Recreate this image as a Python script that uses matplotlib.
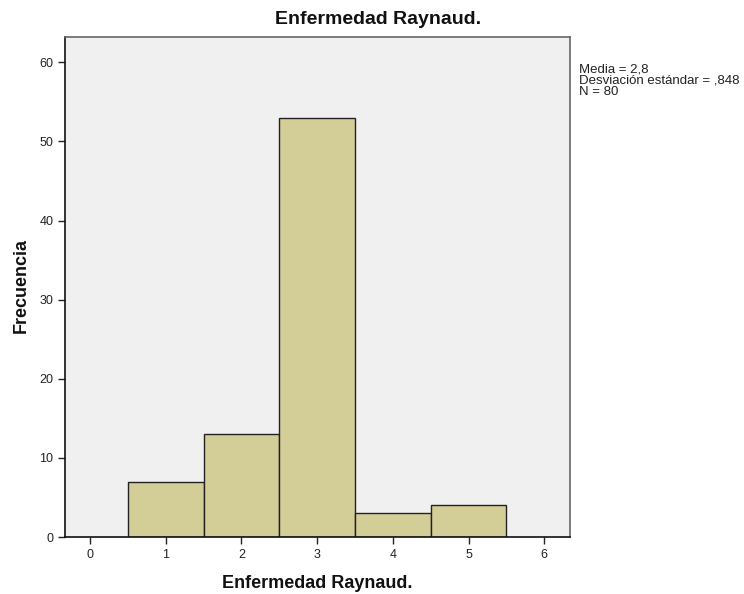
import matplotlib
matplotlib.use("Agg")
import matplotlib.pyplot as plt

categories = [1, 2, 3, 4, 5]
frequencies = [7, 13, 53, 3, 4]
xticks = [0, 1, 2, 3, 4, 5, 6]
yticks = [0, 10, 20, 30, 40, 50, 60]
title = "Enfermedad Raynaud."
xlabel = "Enfermedad Raynaud."
ylabel = "Frecuencia"
stats_text = "Media = 2,8\nDesviación estándar = ,848\nN = 80"

plt.rcParams['font.family'] = ['Liberation Sans', 'DejaVu Sans']
fig = plt.figure(figsize=(7.44, 5.94), dpi=100)
ax = fig.add_axes([65/744, 57/594, 505/744, 500/594])
ax.set_facecolor('#F0F0F0')
ax.bar(categories, frequencies, width=1.0, color='#D3CE97', edgecolor='#222222', linewidth=1.0, zorder=2)
ax.set_xlim(-0.33, 6.34)
ax.set_ylim(0, 63.2)
ax.set_xticks(xticks)
ax.set_yticks(yticks)
ax.tick_params(axis='both', labelsize=9, length=5, width=1, color='#222222', labelcolor='#222222')
for s in ['left', 'bottom']:
    ax.spines[s].set_color('#111111')
    ax.spines[s].set_linewidth(1.2)
for s in ['top', 'right']:
    ax.spines[s].set_color('#666666')
    ax.spines[s].set_linewidth(1.2)
fig.text(378/744, 1 - 20/594, title, fontsize=14, fontweight='bold', ha='center', va='center', color='#111111')
fig.text(317/744, 1 - 583/594, xlabel, fontsize=13, fontweight='bold', ha='center', va='center', color='#111111')
fig.text(21/744, 1 - 286/594, ylabel, fontsize=13, fontweight='bold', ha='center', va='center', rotation=90, color='#111111')
fig.text(579/744, 1 - 64/594, stats_text, fontsize=9.5, va='top', ha='left', linespacing=0.87, color='#222222')
fig.savefig('out.png', dpi=100)
